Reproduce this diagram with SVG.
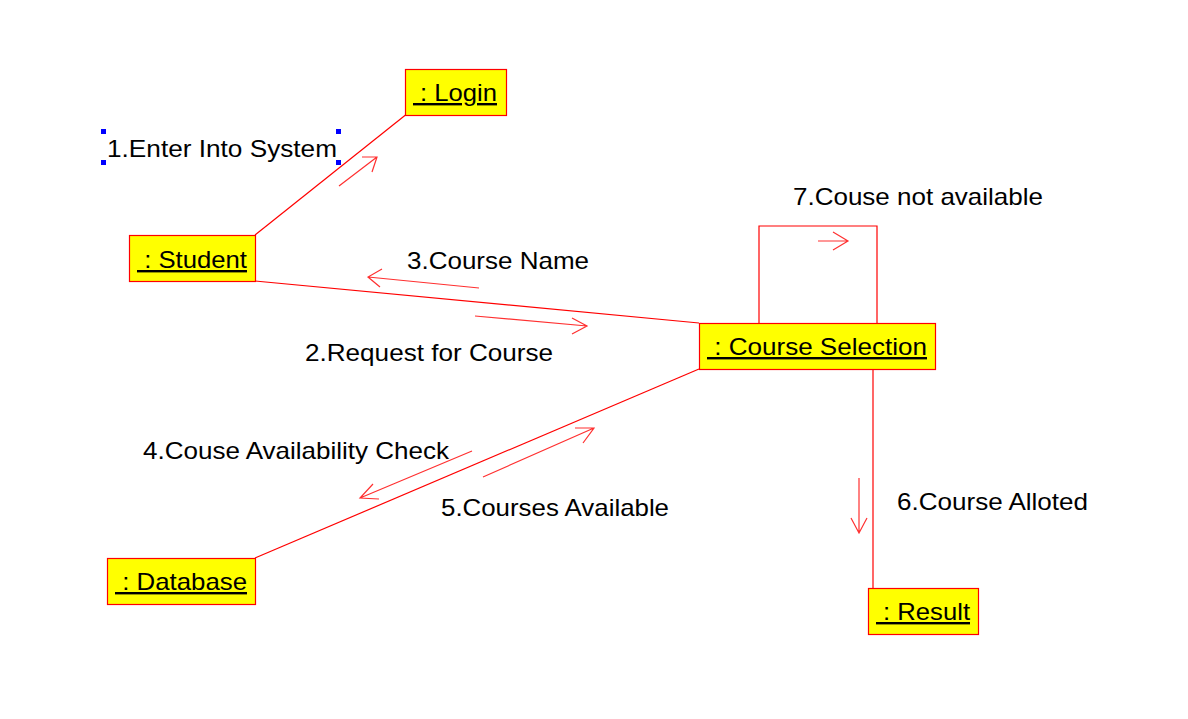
<svg xmlns="http://www.w3.org/2000/svg" width="1188" height="719" viewBox="0 0 1188 719">
<style>
.box{fill:#ffff00;stroke:#ff0000;stroke-width:1.2}
.nl{font-family:"Liberation Sans",Arial,sans-serif;font-size:24px;fill:#000;text-decoration:underline}
.lbl{font-family:"Liberation Sans",Arial,sans-serif;font-size:24px;fill:#000}
.ln{fill:none;stroke:#ff0000;stroke-width:1.2}
.ar{fill:none;stroke:#ff3030;stroke-width:1.2}
.h{fill:#0000ff}
</style>
<rect width="1188" height="719" fill="#ffffff"/>
<g id="connectors">
<line class="ln" x1="255" y1="235" x2="405.5" y2="115"/>
<line class="ln" x1="255" y1="281" x2="699" y2="323"/>
<line class="ln" x1="255" y1="558" x2="699" y2="369"/>
<polyline class="ln" points="759,323 759,226 877,226 877,323"/>
<line class="ln" x1="873" y1="369" x2="873" y2="588"/>
<g id="arrows">
<path class="ar" d="M339,186 L377,157 M362,157 L377,157 L372,172"/>
<path class="ar" d="M479,288 L368,277 M382,269 L368,277 L380,287"/>
<path class="ar" d="M475,316 L587,326 M572,318 L587,326 L572,334"/>
<path class="ar" d="M472,451 L360,498 M373,484 L360,498 L379,499"/>
<path class="ar" d="M483,477 L594,428 M575,428 L594,428 L583,443"/>
<path class="ar" d="M818,241 L848,241 M833,232 L848,241 L833,250"/>
<path class="ar" d="M859,478 L859,533 M851,518 L859,533 L867,518"/>
</g>
</g>
<g id="labels">
<text class="lbl" x="107" y="157" textLength="230" lengthAdjust="spacingAndGlyphs">1.Enter Into System</text>
<text class="lbl" x="793" y="205" textLength="250" lengthAdjust="spacingAndGlyphs">7.Couse not available</text>
<text class="lbl" x="407" y="269" textLength="182" lengthAdjust="spacingAndGlyphs">3.Course Name</text>
<text class="lbl" x="305" y="361" textLength="248" lengthAdjust="spacingAndGlyphs">2.Request for Course</text>
<text class="lbl" x="143" y="459" textLength="306" lengthAdjust="spacingAndGlyphs">4.Couse Availability Check</text>
<text class="lbl" x="441" y="516" textLength="228" lengthAdjust="spacingAndGlyphs">5.Courses Available</text>
<text class="lbl" x="897" y="510" textLength="191" lengthAdjust="spacingAndGlyphs">6.Course Alloted</text>
</g>
<g id="selection">
<rect class="h" x="101" y="129" width="5" height="5"/>
<rect class="h" x="101" y="160" width="5" height="5"/>
<rect class="h" x="336" y="129" width="5" height="5"/>
<rect class="h" x="336" y="160" width="5" height="5"/>
</g>
<g id="login">
<rect class="box" x="405.5" y="69.5" width="101" height="46"/>
<text class="nl" x="413" y="101" textLength="84" lengthAdjust="spacingAndGlyphs">&#160;: Login</text>
</g>
<g id="student">
<rect class="box" x="129.5" y="235.5" width="126" height="46"/>
<text class="nl" x="137" y="268" textLength="110" lengthAdjust="spacingAndGlyphs">&#160;: Student</text>
</g>
<g id="course-selection">
<rect class="box" x="699.5" y="323.5" width="236" height="46"/>
<text class="nl" x="707" y="355" textLength="220" lengthAdjust="spacingAndGlyphs">&#160;: Course Selection</text>
</g>
<g id="database">
<rect class="box" x="107.5" y="558.5" width="148" height="46"/>
<text class="nl" x="115" y="590" textLength="132" lengthAdjust="spacingAndGlyphs">&#160;: Database</text>
</g>
<g id="result">
<rect class="box" x="868.5" y="588.5" width="110" height="46"/>
<text class="nl" x="876" y="620" textLength="94" lengthAdjust="spacingAndGlyphs">&#160;: Result</text>
</g>
</svg>
